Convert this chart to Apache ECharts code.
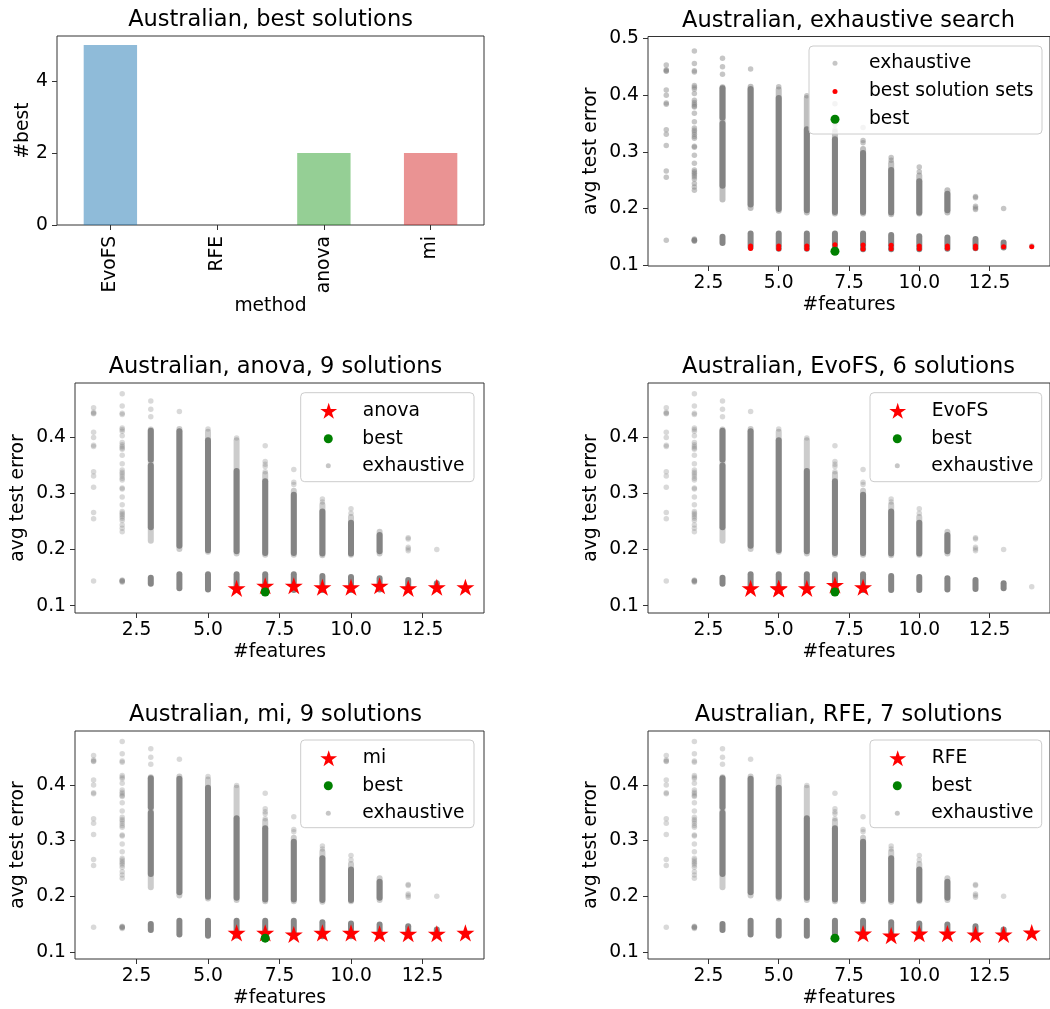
<!DOCTYPE html>
<html><head><meta charset="utf-8">
<script src="https://cdn.jsdelivr.net/npm/echarts@6/dist/echarts.min.js"></script>
<style>html,body{margin:0;padding:0;background:#fff}#c{width:1050px;height:1009px}</style>
</head><body><div id="c"></div>
<script>
// ================= DATA =================
const methods = ['EvoFS', 'RFE', 'anova', 'mi'];
const bestCounts = [5, 0, 2, 2];

const barTicks = [0, 2, 4];
const xTicks = [2.5, 5.0, 7.5, 10.0, 12.5];
const yTicksTop = [0.1, 0.2, 0.3, 0.4, 0.5];
const yTicks = [0.1, 0.2, 0.3, 0.4];

// exhaustive search: individually visible subsets [#features, avg test error]
const exhaustiveDots = [
  [1,0.453],[1,0.445],[1,0.443],[1,0.442],[1,0.409],[1,0.400],[1,0.386],[1,0.384],[1,0.339],[1,0.331],[1,0.311],[1,0.266],[1,0.255],[1,0.144],
  [2,0.478],[2,0.456],[2,0.443],[2,0.441],[2,0.417],[2,0.414],[2,0.411],[2,0.403],[2,0.391],[2,0.387],[2,0.384],[2,0.381],[2,0.379],[2,0.368],
  [2,0.353],[2,0.342],[2,0.338],[2,0.335],[2,0.331],[2,0.327],[2,0.324],[2,0.310],[2,0.308],[2,0.294],[2,0.280],[2,0.268],[2,0.265],[2,0.262],
  [2,0.259],[2,0.256],[2,0.252],[2,0.244],[2,0.238],[2,0.232],[2,0.146],[2,0.145],[2,0.144],[2,0.144],[2,0.143],[2,0.142],
  [3,0.465],[3,0.450],[3,0.437],
  [4,0.446],
  [5,0.415],
  [6,0.399],
  [7,0.385],[7,0.357],[7,0.352],[7,0.348],[7,0.339],
  [8,0.343],[8,0.320],[8,0.316],
  [9,0.290],[9,0.285],
  [10,0.273],[10,0.265],
  [12,0.221],[12,0.219],[12,0.204],[12,0.201],[12,0.198],
  [13,0.200],
  [14,0.134]
];
// exhaustive search: ranges filled with many subsets [#features, low, high]
const exhaustiveSparse = [
  [3,0.216,0.414],[4,0.201,0.415],[5,0.196,0.410],[6,0.193,0.395],[7,0.191,0.335],
  [8,0.191,0.305],[9,0.190,0.280],[10,0.191,0.258],[11,0.193,0.232]
];
// exhaustive search: ranges where subsets overlap into solid bands [#features, low, high]
const exhaustiveDense = [
  [3,0.360,0.412],[3,0.240,0.350],[4,0.207,0.411],[5,0.199,0.395],[6,0.197,0.340],
  [7,0.194,0.322],[8,0.194,0.298],[9,0.193,0.268],[10,0.193,0.248],[11,0.197,0.226],
  [3,0.139,0.150],[4,0.131,0.156],[5,0.129,0.156],[6,0.129,0.156],[7,0.129,0.156],
  [8,0.128,0.156],[9,0.128,0.153],[10,0.128,0.151],[11,0.129,0.149],[12,0.130,0.146],[13,0.131,0.140]
];

const bestSolutionSets = [
  [4,0.1295],[4,0.134],[5,0.129],[5,0.134],[6,0.129],[6,0.134],[7,0.136],
  [8,0.1285],[8,0.1355],[9,0.129],[9,0.135],[10,0.129],[10,0.134],[11,0.130],[11,0.134],
  [12,0.130],[12,0.134],[13,0.1325],[14,0.1325]
];
const bestOverall = [[7, 0.1245]];

const anovaSolutions = [[6,0.131],[7,0.1355],[8,0.1355],[9,0.133],[10,0.133],[11,0.1355],[12,0.131],[13,0.133],[14,0.133]];
const evofsSolutions = [[4,0.131],[5,0.131],[5,0.130],[6,0.131],[7,0.137],[8,0.133]];
const miSolutions = [[6,0.134],[7,0.134],[8,0.131],[9,0.134],[10,0.134],[11,0.1325],[12,0.1325],[13,0.1325],[14,0.134]];
const rfeSolutions = [[8,0.1326],[9,0.129],[10,0.1326],[11,0.1326],[12,0.131],[13,0.131],[14,0.1344]];

// ================= STYLE / LAYOUT =================
const FONT = 'DejaVu Sans';
const FS = 18.7;
const TXT = {fontSize: FS, fontFamily: FONT, color: '#000'};
const barColors = ['rgba(31,119,180,0.5)','rgba(255,127,14,0.5)','rgba(44,160,44,0.5)','rgba(214,39,40,0.5)'];
const STAR = 'path://M0,-100 L22.45,-30.9 L95.1,-30.9 L36.3,11.8 L58.8,80.9 L0,38.2 L-58.8,80.9 L-36.3,11.8 L-95.1,-30.9 L-22.45,-30.9 Z';

const panels = [
  {grid:{left:648, top:36.5, width:402, height:229.5}, yMin:0.0985, yMax:0.5035, ticks:yTicksTop,
   title:'Australian, exhaustive search', dotOp:0.45, sparseOp:0.5,
   marks:{name:'best solution sets', data:bestSolutionSets, star:false},
   legend:{box:[809,46,233,88], iconX:835, rows:[61.7,90,117.7], items:[['exhaustive',5],['best solution sets',5],['best',9]]}},
  {grid:{left:75, top:383, width:409, height:230}, yMin:0.087, yMax:0.497, ticks:yTicks,
   title:'Australian, anova, 9 solutions', dotOp:0.3, sparseOp:0.4,
   marks:{name:'anova', data:anovaSolutions, star:true},
   legend:{box:[300.7,392.7,173.3,89], iconX:328.3, rows:[409.3,437.3,464.3], items:[['anova',16],['best',9],['exhaustive',5]]}},
  {grid:{left:648, top:383, width:402, height:230}, yMin:0.087, yMax:0.497, ticks:yTicks,
   title:'Australian, EvoFS, 6 solutions', dotOp:0.3, sparseOp:0.4,
   marks:{name:'EvoFS', data:evofsSolutions, star:true},
   legend:{box:[870,392.7,171.7,89], iconX:897.3, rows:[409.3,437.3,464.3], items:[['EvoFS',16],['best',9],['exhaustive',5]]}},
  {grid:{left:75, top:731, width:409, height:230}, yMin:0.087, yMax:0.497, ticks:yTicks,
   title:'Australian, mi, 9 solutions', dotOp:0.3, sparseOp:0.4,
   marks:{name:'mi', data:miSolutions, star:true},
   legend:{box:[300.7,740,173.3,87.7], iconX:328.3, rows:[756.7,784.3,811.7], items:[['mi',16],['best',9],['exhaustive',5]]}},
  {grid:{left:648, top:731, width:402, height:230}, yMin:0.087, yMax:0.497, ticks:yTicks,
   title:'Australian, RFE, 7 solutions', dotOp:0.3, sparseOp:0.4,
   marks:{name:'RFE', data:rfeSolutions, star:true},
   legend:{box:[870,740,171.7,87.7], iconX:897.3, rows:[756.7,784.3,811.7], items:[['RFE',16],['best',9],['exhaustive',5]]}}
];

const barGrid = {left:57, top:36, width:427, height:189};

// ================= BUILD OPTION =================
const grids = [Object.assign({show:true, borderColor:'#333', borderWidth:1, backgroundColor:'transparent'}, barGrid)];
const xAxes = [{
  type:'category', gridIndex:0, data:methods,
  axisLine:{show:false, onZero:false},
  axisTick:{show:true, alignWithLabel:true, length:5, lineStyle:{color:'#333'}},
  axisLabel:Object.assign({rotate:90, margin:11, interval:0}, TXT),
  splitLine:{show:false},
  name:'method', nameLocation:'middle', nameGap:71, nameTextStyle:TXT
}];
const yAxes = [{
  type:'value', gridIndex:0, min:0, max:5.25,
  axisLine:{show:false},
  axisTick:{show:true, length:5, customValues:barTicks, lineStyle:{color:'#333'}},
  axisLabel:Object.assign({customValues:barTicks, formatter:v=>String(v), margin:9}, TXT),
  splitLine:{show:false},
  name:'#best', nameLocation:'middle', nameGap:24, nameTextStyle:TXT
}];
const series = [{
  type:'bar', xAxisIndex:0, yAxisIndex:0, barWidth:'50%', silent:true,
  data: bestCounts.map((v,i)=>({value:v, itemStyle:{color:barColors[i]}}))
}];
const legends = [];
const graphics = [
  {type:'text', x:barGrid.left + barGrid.width/2, y:20.5, z:10,
   style:{text:'Australian, best solutions', fontSize:22.5, fontFamily:FONT, fill:'#000', align:'center', verticalAlign:'middle'}}
];

function bandSeries(gi, data, op){
  return {
    type:'custom', xAxisIndex:gi, yAxisIndex:gi, silent:true, z:2,
    encode:{x:0, y:[1,2]},
    data:data,
    renderItem:(params, api)=>{
      const x = api.value(0), lo = api.value(1), hi = api.value(2);
      const pt = api.coord([x, hi]), pb = api.coord([x, lo]);
      const w = 6;
      return {type:'rect', shape:{x:pt[0]-w/2, y:pt[1]-w/2, width:w, height:pb[1]-pt[1]+w, r:w/2},
              style:{fill:'#808080', opacity:op}};
    }
  };
}

panels.forEach((p, k)=>{
  const gi = k + 1;
  grids.push(Object.assign({show:true, borderColor:'#333', borderWidth:1, backgroundColor:'transparent'}, p.grid));
  xAxes.push({
    type:'value', gridIndex:gi, min:0.35, max:14.65,
    axisLine:{show:false, onZero:false},
    axisTick:{show:true, length:5, customValues:xTicks, lineStyle:{color:'#333'}},
    axisLabel:Object.assign({customValues:xTicks, formatter:v=>v.toFixed(1), margin:8}, TXT),
    splitLine:{show:false},
    name:'#features', nameLocation:'middle', nameGap:30, nameTextStyle:TXT
  });
  yAxes.push({
    type:'value', gridIndex:gi, min:p.yMin, max:p.yMax,
    axisLine:{show:false, onZero:false},
    axisTick:{show:true, length:5, customValues:p.ticks, lineStyle:{color:'#333'}},
    axisLabel:Object.assign({customValues:p.ticks, formatter:v=>v.toFixed(1), margin:9}, TXT),
    splitLine:{show:false},
    name:'avg test error', nameLocation:'middle', nameGap:47, nameTextStyle:TXT
  });
  series.push(bandSeries(gi, exhaustiveSparse, p.sparseOp));
  series.push(bandSeries(gi, exhaustiveDense, 0.95));
  series.push({type:'scatter', name:'exhaustive', xAxisIndex:gi, yAxisIndex:gi, silent:true, z:2,
    symbol:'circle', symbolSize:5.5, itemStyle:{color:'#808080', opacity:p.dotOp}, data:exhaustiveDots});
  if (p.marks.star) {
    series.push({type:'scatter', name:p.marks.name, xAxisIndex:gi, yAxisIndex:gi, silent:true, z:3,
      symbol:STAR, symbolKeepAspect:true, symbolSize:18, itemStyle:{color:'#ff0000', opacity:1}, data:p.marks.data});
  } else {
    series.push({type:'scatter', name:p.marks.name, xAxisIndex:gi, yAxisIndex:gi, silent:true, z:3,
      symbol:'circle', symbolSize:5, itemStyle:{color:'#ff0000', opacity:1}, data:p.marks.data});
  }
  series.push({type:'scatter', name:'best', xAxisIndex:gi, yAxisIndex:gi, silent:true, z:4,
    symbol:'circle', symbolSize:9, itemStyle:{color:'#008000', opacity:1}, data:bestOverall});

  graphics.push({type:'text', x:p.grid.left + Math.min(p.grid.width, 401)/2, y:p.grid.top - 15.5, z:10,
    style:{text:p.title, fontSize:22.5, fontFamily:FONT, fill:'#000', align:'center', verticalAlign:'middle'}});
  const L = p.legend;
  graphics.push({type:'rect', z:5, shape:{x:L.box[0], y:L.box[1], width:L.box[2], height:L.box[3], r:4},
    style:{fill:'rgba(255,255,255,0.8)', stroke:'#cccccc', lineWidth:1}});
  L.items.forEach((it, r)=>{
    legends.push({data:[it[0]], left:L.iconX - it[1]/2, top:L.rows[r] - 8, itemWidth:58, itemHeight:it[1],
      padding:0, itemGap:0, selectedMode:false, z:6, orient:'horizontal', textStyle:TXT});
  });
});

const chart = echarts.init(document.getElementById('c'), null, {renderer:'canvas'});
chart.setOption({
  animation:false,
  backgroundColor:'#fff',
  grid:grids, xAxis:xAxes, yAxis:yAxes, series:series, legend:legends, graphic:graphics
});
</script></body></html>
